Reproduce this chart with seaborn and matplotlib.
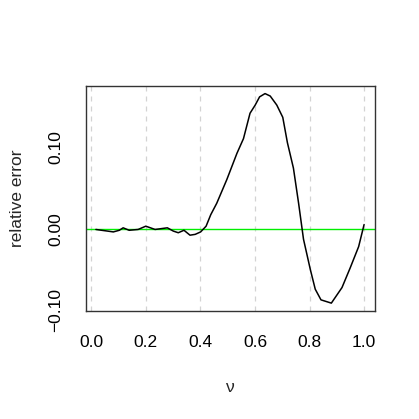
import numpy as np
import pandas as pd
import seaborn as sns
import matplotlib.pyplot as plt

# values
nu = [0.017, 0.038, 0.060, 0.081, 0.103, 0.117, 0.139, 0.172, 0.200, 0.234,
      0.279, 0.301, 0.319, 0.340, 0.362, 0.381, 0.401, 0.421, 0.438, 0.460,
      0.497, 0.534, 0.558, 0.582, 0.601, 0.617, 0.637, 0.656, 0.680, 0.702,
      0.719, 0.741, 0.760, 0.778, 0.803, 0.821, 0.842, 0.880, 0.919, 0.949,
      0.980, 1.000]
rel_err = [-0.001, -0.002, -0.003, -0.004, -0.002, 0.001, -0.002, -0.001, 0.003, -0.001,
           0.001, -0.003, -0.005, -0.002, -0.008, -0.007, -0.004, 0.003, 0.017, 0.031,
           0.060, 0.092, 0.110, 0.141, 0.151, 0.161, 0.165, 0.162, 0.151, 0.136,
           0.105, 0.074, 0.031, -0.013, -0.050, -0.074, -0.087, -0.091, -0.072, -0.048,
           -0.022, 0.005]

xticks = [0.0, 0.2, 0.4, 0.6, 0.8, 1.0]
xlabels = ["0.0", "0.2", "0.4", "0.6", "0.8", "1.0"]
yticks = [-0.10, -0.05, 0.00, 0.05, 0.10, 0.15]
ylabels = ["-0.10", "", "0.00", "", "0.10", ""]

df = pd.DataFrame({"nu": nu, "err": rel_err})

sns.set_style("white")
plt.rcParams['font.family'] = ['Liberation Sans', 'DejaVu Sans']
plt.rcParams['axes.unicode_minus'] = True

fig = plt.figure(figsize=(4.19, 4.19), dpi=100)
ax = fig.add_axes([0.205, 0.258, 0.69, 0.537])

for x in xticks:
    ax.axvline(x, color="#d3d3d3", lw=0.9, ls=(0, (4, 4)), zorder=0)
ax.axhline(0, color="#00ee00", lw=1.0, zorder=1)

sns.lineplot(data=df, x="nu", y="err", color="black", lw=1.1, ax=ax, zorder=2)

ax.set_xlim(-0.0195, 1.04)
ax.set_ylim(-0.1005, 0.1744)
ax.set_xticks(xticks)
ax.set_xticklabels(xlabels)
ax.set_yticks(yticks)
ax.set_yticklabels([s.replace("-", "\u2212") for s in ylabels], rotation=90, va="center")

for s in ax.spines.values():
    s.set_color("#333333")
    s.set_linewidth(1.0)

ax.tick_params(axis="both", direction="out", length=7.5, width=0.9, color="#333333",
               labelsize=12.5, labelcolor="black")
ax.tick_params(axis="x", pad=10)
ax.tick_params(axis="y", pad=9)

ax.set_xlabel("\u03bd", fontsize=12.5)
ax.set_ylabel("relative error", fontsize=12.5)
ax.xaxis.set_label_coords(0.5, -0.305)
ax.yaxis.set_label_coords(-0.211, 0.5)

fig.savefig("out.png", dpi=100, facecolor="white")
